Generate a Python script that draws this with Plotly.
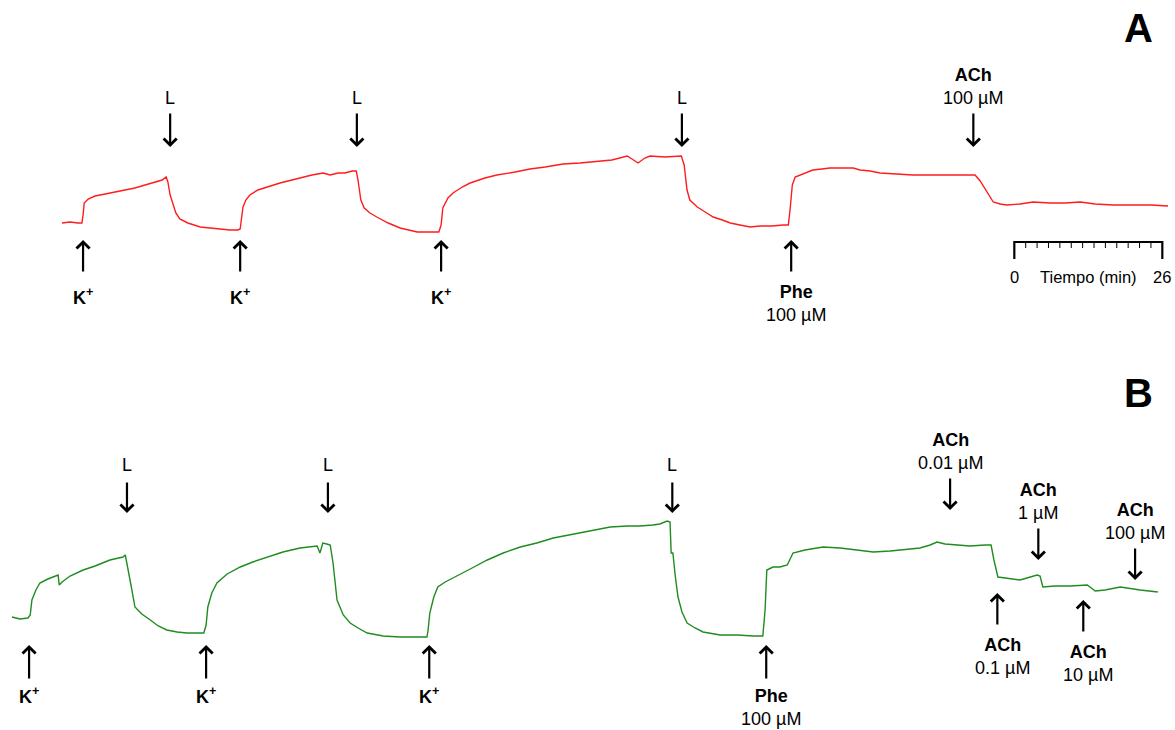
import plotly.graph_objects as go

FONT = "Liberation Sans, Arial, Helvetica, sans-serif"

# ---------------- Panel A (red trace): time (min), tension (arb. units) ----------------
A_t = [0.0, 1.4, 2.8, 3.5, 3.7, 3.9, 4.6, 5.8, 7.6, 9.3, 11.1, 12.8, 14.6, 16.3, 17.6, 18.3,
       18.6, 19.0, 19.5, 20.0, 20.7, 22.1, 24.3, 26.0, 27.8, 29.5, 30.9, 31.3, 31.5, 31.8,
       32.3, 33.0, 34.4, 36.0, 38.3, 41.8, 43.9, 45.9, 47.1, 48.5, 49.7, 51.0, 51.7, 52.0,
       52.5, 53.1, 54.1, 55.3, 57.3, 59.4, 61.1, 62.4, 64.7, 66.2, 66.6, 66.9, 67.8, 68.7,
       70.3, 71.7, 74.3, 76.4, 79.6, 82.2, 84.9, 88.0, 91.0, 94.0, 96.6, 99.3, 100.3, 101.2,
       102.4, 103.3, 105.9, 108.1, 108.8, 109.3, 109.8, 110.3, 111.6, 113.0, 114.4, 116.0,
       117.4, 119.1, 120.9, 122.6, 124.7, 126.7, 127.6, 127.9, 128.3, 128.8, 130.5, 131.9,
       133.5, 134.9, 137.6, 139.0, 140.2, 142.0, 143.7, 146.4, 148.1, 149.5, 152.5, 156.0,
       158.7, 160.4, 161.3, 162.5, 163.6, 164.8, 166.0, 168.3, 170.6, 173.6, 176.2, 178.9,
       181.5, 184.7, 187.6, 191.2, 194.3]
A_v = [1.7, 1.8, 1.7, 1.7, 2.5, 3.7, 4.1, 4.4, 4.6, 4.8, 5.0, 5.2, 5.5, 5.8, 6.0, 6.3,
       5.8, 4.5, 3.5, 2.7, 2.1, 1.7, 1.3, 1.2, 1.1, 1.0, 1.0, 1.1, 2.0, 3.3,
       4.0, 4.5, 5.0, 5.3, 5.7, 6.2, 6.5, 6.7, 6.5, 6.7, 6.7, 6.9, 6.9, 6.0,
       4.0, 3.2, 2.7, 2.3, 1.7, 1.2, 1.0, 0.8, 0.8, 0.8, 1.5, 3.2, 4.2, 4.7,
       5.3, 5.7, 6.2, 6.5, 6.8, 7.1, 7.3, 7.6, 7.7, 7.9, 8.0, 8.4, 8.0, 7.7,
       8.2, 8.4, 8.3, 8.4, 8.4, 7.5, 5.0, 4.0, 3.3, 2.8, 2.3, 2.0,
       1.7, 1.5, 1.3, 1.4, 1.4, 1.5, 1.5, 3.0, 5.5, 6.3, 6.7, 7.0,
       7.1, 7.2, 7.2, 7.2, 7.0, 6.9, 6.7, 6.6, 6.6, 6.5, 6.5, 6.5,
       6.5, 6.5, 5.9, 4.8, 3.8, 3.6, 3.5, 3.6, 3.8, 3.7, 3.7, 3.8,
       3.6, 3.5, 3.5, 3.5, 3.4]

# ---------------- Panel B (green trace) ----------------
B_t = [0.0, 1.4, 2.8, 3.2, 3.5, 4.2, 4.9, 6.3, 8.1, 8.3, 8.8, 10.2, 12.5, 14.6, 17.2, 18.6,
       19.5, 19.9, 20.2, 20.9, 21.6, 22.8, 24.3, 25.7, 27.2, 29.0, 30.7, 32.5, 33.7, 34.1,
       34.4, 35.1, 36.0, 37.8, 40.1, 42.3, 44.8, 47.6, 50.6, 52.4, 53.6, 54.1, 54.6, 55.3,
       55.9, 56.4, 57.1, 58.2, 59.4, 60.8, 62.4, 65.2, 68.2, 70.8, 72.9, 73.1, 73.4, 74.1,
       74.8, 76.1, 77.5, 80.5, 83.5, 86.3, 89.3, 92.2, 95.1, 98.0, 101.0, 103.3, 105.1,
       108.1, 110.3, 112.6, 113.8, 115.1, 115.6, 115.8, 116.1, 116.5, 117.0, 117.7, 118.6,
       120.0, 121.4, 124.4, 127.4, 130.2, 131.9, 132.3, 132.6, 133.7, 134.9, 136.2, 137.2,
       139.3, 142.5, 145.5, 148.5, 151.3, 154.3, 157.2, 159.5, 161.3, 162.5, 163.9, 166.0,
       168.3, 170.9, 172.0, 172.5, 173.2, 174.5, 177.1, 178.9, 180.1, 180.6, 181.1, 183.2,
       185.9, 188.9, 190.3, 192.0, 194.7, 198.2, 201.3]
B_v = [2.8, 2.6, 2.7, 3.0, 4.5, 5.5, 6.2, 6.6, 7.0, 6.0, 6.3, 6.9, 7.5, 7.9, 8.5, 8.7,
       8.8, 9.0, 8.2, 6.0, 3.8, 3.1, 2.5, 1.9, 1.5, 1.3, 1.2, 1.2, 1.2, 2.0,
       3.8, 5.2, 6.2, 7.1, 7.8, 8.3, 8.8, 9.3, 9.7, 9.8, 9.9, 9.2, 10.2, 10.1,
       10.0, 8.2, 4.5, 3.0, 2.2, 1.7, 1.2, 0.9, 0.8, 0.8, 0.8, 1.5, 3.2, 4.8,
       5.8, 6.3, 6.7, 7.6, 8.5, 9.2, 9.8, 10.2, 10.7, 11.0, 11.3, 11.6, 11.8,
       11.9, 11.9, 12.0, 12.1, 12.4, 12.3, 9.2, 9.2, 7.0, 4.8, 3.3, 2.2,
       1.7, 1.3, 1.0, 1.0, 0.9, 0.9, 3.5, 7.5, 7.8, 7.8, 8.0, 9.2,
       9.5, 9.8, 9.7, 9.5, 9.3, 9.4, 9.6, 9.7, 10.0, 10.3, 10.1, 10.0,
       9.9, 10.0, 10.0, 8.5, 6.8, 6.7, 6.5, 6.8, 7.0, 6.9, 5.8, 5.9,
       5.9, 6.0, 5.4, 5.5, 5.8, 5.5, 5.3]

# ---------------- Events ----------------
A_K_T = [3.7, 31.3, 66.6]
A_L_T = [19.0, 51.8, 108.9]
A_PHE_T = 128.1
A_ACH_T = 160.1
A_UP_TIP = 0.0
A_DOWN_TIP = 9.3

B_K_T = [3.0, 34.1, 73.3]
B_L_T = [20.2, 55.5, 116.0]
B_PHE_T = 132.5
B_UP_TIP = 0.0
B_L_TIP = 13.2
B_ACH_T = [164.8, 173.1, 180.3, 188.2, 197.3]
B_ACH_DOSE = ["0.01 µM", "0.1 µM", "1 µM", "10 µM", "100 µM"]
B_ACH_UP = [False, True, False, True, False]
B_ACH_TIP = [13.5, 5.2, 8.5, 4.5, 6.5]

# Time scale bar (minutes)
SCALE_START = 167.3
SCALE_LEN = 26
SCALE_STEP = 2
SCALE_LEVEL = -0.2

RED = "#ff1c1c"
GREEN = "#1f8c1f"

fig = go.Figure()
fig.add_trace(go.Scatter(x=A_t, y=A_v, mode="lines", line=dict(color=RED, width=1.4),
                         xaxis="x", yaxis="y", showlegend=False, hoverinfo="skip"))
fig.add_trace(go.Scatter(x=B_t, y=B_v, mode="lines", line=dict(color=GREEN, width=1.4),
                         xaxis="x2", yaxis="y2", showlegend=False, hoverinfo="skip"))

# scale bar: main line + end ticks
sx = [SCALE_START, SCALE_START, SCALE_START + SCALE_LEN, SCALE_START + SCALE_LEN]
sy = [SCALE_LEVEL - 1.7, SCALE_LEVEL, SCALE_LEVEL, SCALE_LEVEL - 1.7]
fig.add_trace(go.Scatter(x=sx, y=sy, mode="lines", line=dict(color="black", width=2.2),
                         xaxis="x", yaxis="y", showlegend=False, hoverinfo="skip"))
mx, my = [], []
for k in range(SCALE_STEP, SCALE_LEN, SCALE_STEP):
    mx += [SCALE_START + k, SCALE_START + k, None]
    my += [SCALE_LEVEL, SCALE_LEVEL - 0.6, None]
fig.add_trace(go.Scatter(x=mx, y=my, mode="lines", line=dict(color="black", width=1),
                         xaxis="x", yaxis="y", showlegend=False, hoverinfo="skip"))

ann = []


def arrow(xr, yr, x, y, up, length):
    ann.append(dict(x=x, y=y, xref=xr, yref=yr, text="", showarrow=True, ax=0,
                    ay=(length if up else -length), arrowhead=4, arrowsize=1.15,
                    arrowwidth=2.2, arrowcolor="black", standoff=0))


def label(xr, yr, x, y, text, yshift, xshift=0, size=18):
    ann.append(dict(x=x, y=y, xref=xr, yref=yr, text=text, showarrow=False,
                    yshift=yshift, xshift=xshift, xanchor="center", yanchor="middle",
                    font=dict(family=FONT, size=size, color="black")))


K_TXT = "<b>K<sup>+</sup></b>"

# Panel A
for t in A_K_T:
    arrow("x", "y", t, A_UP_TIP, True, 33)
    label("x", "y", t, A_UP_TIP, K_TXT, -56)
for t in A_L_T:
    arrow("x", "y", t, A_DOWN_TIP, False, 35)
    label("x", "y", t, A_DOWN_TIP, "L", 49)
arrow("x", "y", A_PHE_T, A_UP_TIP, True, 33)
label("x", "y", A_PHE_T, A_UP_TIP, "<b>Phe</b><br>100 µM", -63, 5)
arrow("x", "y", A_ACH_T, A_DOWN_TIP, False, 35)
label("x", "y", A_ACH_T, A_DOWN_TIP, "<b>ACh</b><br>100 µM", 61)

# scale bar labels
label("x", "y", SCALE_START, SCALE_LEVEL, "0", -35, 0, 16.5)
label("x", "y", SCALE_START + SCALE_LEN / 2, SCALE_LEVEL, "Tiempo (min)", -35, 0, 16.5)
label("x", "y", SCALE_START + SCALE_LEN, SCALE_LEVEL, "26", -35, 0, 16.5)

# Panel B
for t in B_K_T:
    arrow("x2", "y2", t, B_UP_TIP, True, 35)
    label("x2", "y2", t, B_UP_TIP, K_TXT, -50)
for t in B_L_T:
    arrow("x2", "y2", t, B_L_TIP, False, 32)
    label("x2", "y2", t, B_L_TIP, "L", 48)
arrow("x2", "y2", B_PHE_T, B_UP_TIP, True, 35)
label("x2", "y2", B_PHE_T, B_UP_TIP, "<b>Phe</b><br>100 µM", -62, 5)
for t, dose, up, tip in zip(B_ACH_T, B_ACH_DOSE, B_ACH_UP, B_ACH_TIP):
    arrow("x2", "y2", t, tip, up, 33)
    label("x2", "y2", t, tip, "<b>ACh</b><br>" + dose, (-63 if up else 59), (5 if up else 0))

# panel letters
ann.append(dict(x=1138 / 1175, y=1 - 28 / 730, xref="paper", yref="paper", text="<b>A</b>",
                showarrow=False, font=dict(family=FONT, size=40, color="black"),
                xanchor="center", yanchor="middle"))
ann.append(dict(x=1138 / 1175, y=1 - 393 / 730, xref="paper", yref="paper", text="<b>B</b>",
                showarrow=False, font=dict(family=FONT, size=40, color="black"),
                xanchor="center", yanchor="middle"))

PX_PER_MIN = 148 / 26
fig.update_layout(
    width=1175, height=730, margin=dict(l=0, r=0, t=0, b=0),
    paper_bgcolor="white", plot_bgcolor="white",
    xaxis=dict(domain=[0, 1], range=[-62 / PX_PER_MIN, (1175 - 62) / PX_PER_MIN],
               visible=False, anchor="y"),
    yaxis=dict(domain=[0.5, 1], range=[-12.5, 24], visible=False, anchor="x"),
    xaxis2=dict(domain=[0, 1], range=[-12 / PX_PER_MIN, (1175 - 12) / PX_PER_MIN],
                visible=False, anchor="y2"),
    yaxis2=dict(domain=[0, 0.5], range=[-8.5, 28], visible=False, anchor="x2"),
    annotations=ann,
    font=dict(family=FONT),
)

fig.write_html("out.html", config={"displayModeBar": False},
               post_script="document.body.style.margin='0px';document.body.style.overflow='hidden';")
